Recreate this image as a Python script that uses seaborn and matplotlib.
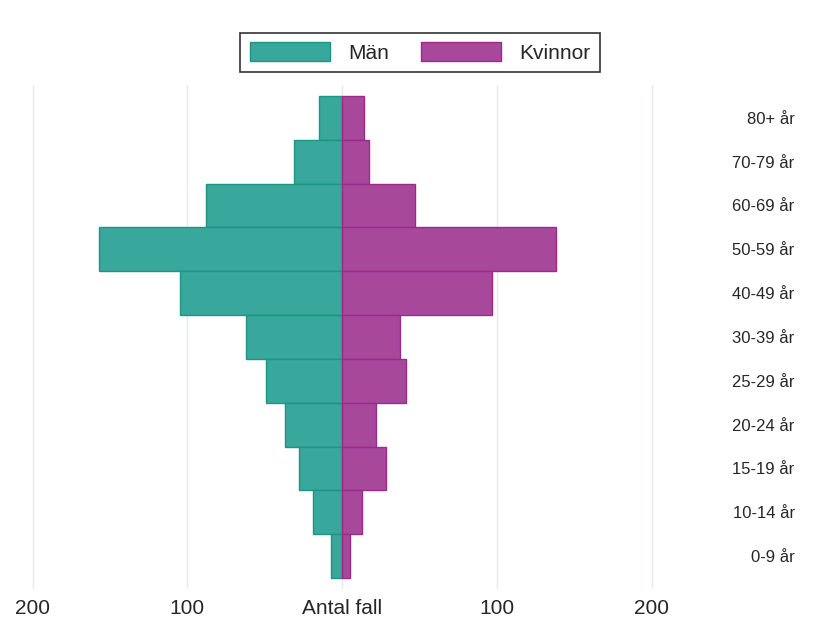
import pandas as pd
import matplotlib.pyplot as plt
import seaborn as sns

# Age groups, top to bottom as shown
ages = ["80+ år", "70-79 år", "60-69 år", "50-59 år", "40-49 år", "30-39 år",
        "25-29 år", "20-24 år", "15-19 år", "10-14 år", "0-9 år"]
men = [15, 31, 88, 157, 105, 62, 49, 37, 28, 19, 7]
women = [14, 17, 47, 138, 97, 37, 41, 22, 28, 13, 5]

tick_pos = [-200, -100, 0, 100, 200]
tick_labels = ["200", "100", "Antal fall", "100", "200"]

df_men = pd.DataFrame({"age": ages, "value": [-v for v in men]})
df_women = pd.DataFrame({"age": ages, "value": women})

sns.set_style("white")
plt.rcParams["font.family"] = ["Liberation Sans", "DejaVu Sans"]

fig = plt.figure(figsize=(8.29, 6.2), dpi=100)
ax = fig.add_axes([0.0, 0.05, 0.962, 0.813])

sns.barplot(data=df_men, x="value", y="age", order=ages, orient="h",
            color="#37a89b", edgecolor="#1e9483", linewidth=1.0,
            width=1.0, saturation=1, label="Män", ax=ax)
sns.barplot(data=df_women, x="value", y="age", order=ages, orient="h",
            color="#a8489a", edgecolor="#9a2a8c", linewidth=1.0,
            width=1.0, saturation=1, label="Kvinnor", ax=ax)

ax.set_xlim(-221, 294)
ax.set_ylim(10.75, -0.75)
ax.set_xticks(tick_pos)
ax.set_xticklabels(tick_labels, fontsize=15)
ax.grid(axis="x", color="#e4eded", linewidth=1)
ax.set_axisbelow(True)
ax.set_xlabel("")
ax.set_ylabel("")
for s in ax.spines.values():
    s.set_visible(False)

ax.yaxis.tick_right()
ax.tick_params(axis="y", length=0, pad=-2, labelsize=12)
ax.tick_params(axis="x", length=0, pad=7)
for lbl in ax.get_yticklabels():
    lbl.set_horizontalalignment("right")

leg = ax.legend(loc="lower center", bbox_to_anchor=(0.527, 1.005), ncol=2,
                fontsize=15, frameon=True, fancybox=False, edgecolor="black",
                handlelength=3.85, handleheight=1.0, handletextpad=0.9,
                columnspacing=1.5, borderpad=0.45)
leg.get_frame().set_linewidth(1.2)

plt.savefig("out.png", dpi=100)
plt.close()
